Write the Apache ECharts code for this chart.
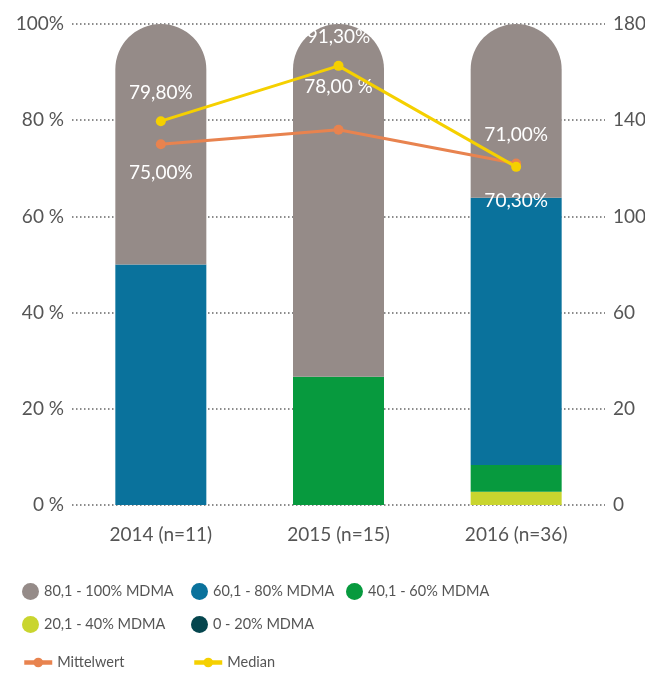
<!DOCTYPE html>
<html lang="de">
<head>
    <meta charset="UTF-8">
    <title>MDMA Gehalt</title>
    <script src="https://cdn.jsdelivr.net/npm/echarts@6/dist/echarts.min.js"></script>
    <style>
        html, body { margin: 0; padding: 0; background: #fff; }
        #chart { width: 645px; height: 673px; }
    </style>
</head>
<body>
    <div id="chart"></div>
    <script>
        var years = ['2014 (n=11)', '2015 (n=15)', '2016 (n=36)'];
        // Anteile in % je Jahr
        var d80 = [50, 73.33, 36.11];
        var d60 = [50, 0, 55.56];
        var d40 = [0, 26.67, 5.56];
        var d20 = [0, 0, 2.78];
        var d0 = [0, 0, 0];
        var mittelwert = [75.0, 78.0, 71.0];
        var median = [79.8, 91.3, 70.3];
        var leftTicks = ['0 %', '20 %', '40 %', '60 %', '80 %', '100%'];
        var rightTicks = ['0', '20', '60', '100', '140', '180'];

        var font = 'Lato';
        var txt = '#555';

        function fmt(v) {
            return v.toFixed(2).replace('.', ',') + '%';
        }

        function barSeries(name, data, color, radius) {
            return {
                name: name,
                type: 'bar',
                stack: 'mdma',
                barWidth: 91,
                data: data,
                itemStyle: { color: color, borderRadius: radius || 0 },
                emphasis: { disabled: true }
            };
        }

        var chart = echarts.init(document.getElementById('chart'));
        var circleLegend = {
            orient: 'vertical',
            top: 578,
            icon: 'circle',
            itemWidth: 17,
            itemHeight: 17,
            itemGap: 16,
            textStyle: { fontFamily: font, fontSize: 14.5, color: txt }
        };
        var lineLegend = {
            top: 650,
            itemWidth: 28,
            itemHeight: 12,
            lineStyle: { width: 4.5 },
            textStyle: { fontFamily: font, fontSize: 14.5, color: txt }
        };

        var option = {
            animation: false,
            grid: { left: 72, right: 40, top: 24, bottom: 168, outerBoundsMode: 'none' },
            legend: [
                Object.assign({ left: 17, data: ['80,1 - 100% MDMA', '20,1 - 40% MDMA'] }, circleLegend),
                Object.assign({ left: 186, data: ['60,1 - 80% MDMA', '0 - 20% MDMA'] }, circleLegend),
                Object.assign({ left: 341, data: ['40,1 - 60% MDMA'] }, circleLegend),
                Object.assign({ left: 17, data: ['Mittelwert'] }, lineLegend),
                Object.assign({ left: 187, data: ['Median'] }, lineLegend)
            ],
            xAxis: {
                type: 'category',
                data: years,
                axisLine: { show: false },
                axisTick: { show: false },
                axisLabel: { margin: 20, fontFamily: font, fontSize: 19, color: txt }
            },
            yAxis: [{
                type: 'value',
                min: 0,
                max: 100,
                interval: 20,
                axisLabel: {
                    margin: 8,
                    fontFamily: font, fontSize: 19, color: txt,
                    formatter: function (v) { return leftTicks[v / 20]; }
                },
                splitLine: { lineStyle: { type: [1.5, 2.5], width: 1.5, color: '#666' } }
            }, {
                type: 'value',
                min: 0,
                max: 100,
                interval: 20,
                axisLabel: {
                    margin: 8,
                    fontFamily: font, fontSize: 19, color: txt,
                    formatter: function (v) { return rightTicks[v / 20]; }
                },
                splitLine: { show: false }
            }],
            series: [
                barSeries('0 - 20% MDMA', d0, '#05464e'),
                barSeries('20,1 - 40% MDMA', d20, '#c9d52f'),
                barSeries('40,1 - 60% MDMA', d40, '#079a3e'),
                barSeries('60,1 - 80% MDMA', d60, '#0a729c'),
                barSeries('80,1 - 100% MDMA', d80, '#958b88', [45.5, 45.5, 0, 0]),
                {
                    name: 'Mittelwert',
                    type: 'line',
                    z: 5,
                    symbol: 'circle',
                    symbolSize: 10,
                    color: '#e8834f',
                    lineStyle: { width: 3 },
                    data: mittelwert.map(function (v, i) {
                        return {
                            value: v,
                            label: {
                                position: i === 0 ? 'bottom' : 'top',
                                distance: i === 1 ? 28 : 14,
                                formatter: i === 1 ? '78,00 %' : fmt(v)
                            }
                        };
                    }),
                    label: { show: true, color: '#fff', fontFamily: font, fontSize: 19 }
                },
                {
                    name: 'Median',
                    type: 'line',
                    z: 6,
                    symbol: 'circle',
                    symbolSize: 10,
                    color: '#f5d000',
                    lineStyle: { width: 3 },
                    data: median.map(function (v, i) {
                        return {
                            value: v,
                            label: {
                                position: i === 2 ? 'bottom' : 'top',
                                distance: i === 2 ? 20 : 14,
                                formatter: fmt(v)
                            }
                        };
                    }),
                    label: { show: true, color: '#fff', fontFamily: font, fontSize: 19 }
                }
            ]
        };
        chart.setOption(option);
    </script>
</body>
</html>
